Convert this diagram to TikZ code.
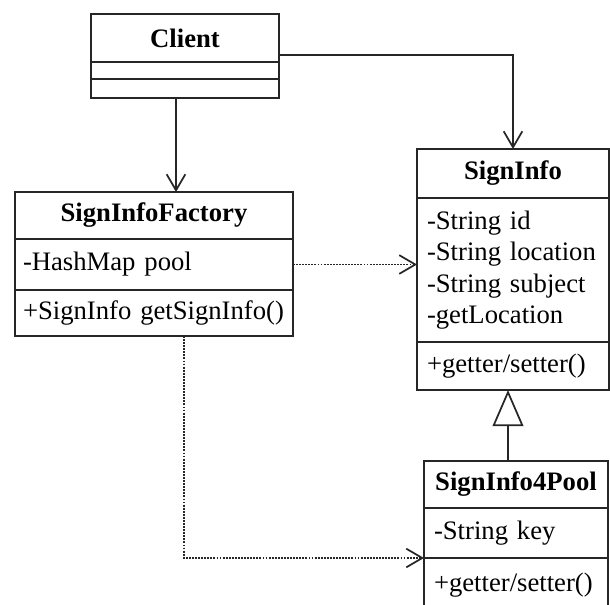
\documentclass[tikz,border=0pt]{standalone}
\usepackage{fontspec}
\setmainfont{Liberation Serif}
\usetikzlibrary{positioning, arrows.meta}

\newcommand{\umlfont}{\fontsize{20}{23.5}\selectfont}

\tikzset{
	umlbox/.style={draw=black!85, line width=1.3pt, outer sep=0pt, inner ysep=0pt},
	umltitle/.style={umlbox, font=\umlfont\bfseries, inner xsep=0pt, anchor=north west},
	umlpart/.style={umlbox, font=\umlfont, align=left, inner xsep=7.5pt, below=0pt of #1},
	assoc/.style={draw=black!85, line width=1.3pt, -{Straight Barb[length=12pt, width=14pt]}},
	dep/.style={assoc, dash pattern=on 1.4pt off 0.9pt},
	inherit/.style={draw=black!85, line width=1.3pt, -{Triangle[open, length=27pt, width=23pt, fill=white]}}
}

\begin{document}
\begin{tikzpicture}[x=0.75pt, y=-0.75pt]
	\clip (0,0) rectangle (610,604);
	% Client
	\node[umltitle, minimum width=141pt, minimum height=36pt] (client) at (91,14) {Client};
	\node[umlpart=client, text width=126pt, minimum height=12.75pt] (clientattr) {};
	\node[umlpart=clientattr, text width=126pt, minimum height=14.25pt] (clientops) {};
	% SignInfoFactory
	\node[umltitle, minimum width=208.5pt, minimum height=35.25pt] (factory) at (15,192) {SignInfoFactory};
	\node[umlpart=factory, inner xsep=6pt, text width=196.5pt, minimum height=38.25pt] (factoryattr) {-HashMap pool};
	\node[umlpart=factoryattr, inner xsep=6pt, text width=196.5pt, minimum height=34.5pt] (factoryops) {+SignInfo getSignInfo()};
	% SignInfo
	\node[umltitle, minimum width=144pt, minimum height=36.75pt] (sig) at (417,149) {SignInfo};
	\node[umlpart=sig, text width=129pt, minimum height=108pt] (sigattr)
		{-String id\\-String location\\-String subject\\-getLocation};
	\node[umlpart=sigattr, text width=129pt, minimum height=36pt] (sigops) {+getter/setter()};
	% SignInfo4Pool
	\node[umltitle, minimum width=138pt, minimum height=35.25pt] (pool) at (424,461) {SignInfo4Pool};
	\node[umlpart=pool, text width=123pt, minimum height=37.5pt] (poolattr) {-String key};
	\node[umlpart=poolattr, text width=123pt, minimum height=40pt] (poolops) {+getter/setter()};

	% connectors
	\draw[assoc] ([xshift=-6.75pt]clientops.south) -- ([xshift=-6.75pt]clientops.south |- factory.north);
	\draw[assoc] ([yshift=-12.75pt]client.east) -| (sig.north);
	\draw[dep] (factoryattr.east) -- (factoryattr.east -| sigattr.west);
	\draw[dep] ([xshift=22.5pt]factoryops.south) |- (poolops.north west);
	\draw[inherit] ([xshift=-6pt]pool.north) -- ([xshift=-6pt]pool.north |- sigops.south);
\end{tikzpicture}
\end{document}
